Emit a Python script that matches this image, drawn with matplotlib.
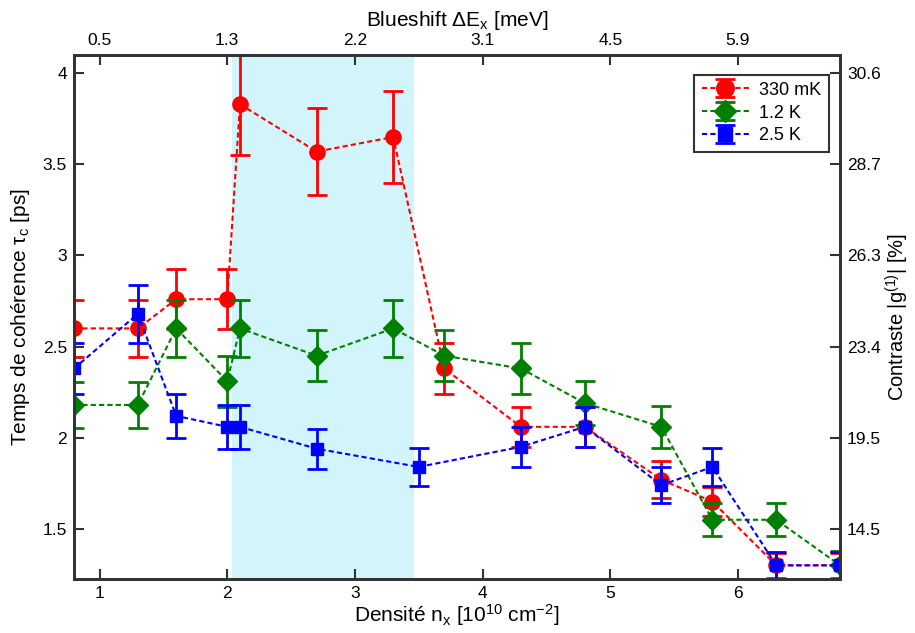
import matplotlib
matplotlib.use("Agg")
import matplotlib.pyplot as plt

plt.rcParams['font.family'] = ['Liberation Sans', 'DejaVu Sans']
plt.rcParams['mathtext.default'] = 'regular'

# Data
x_330 = [0.8, 1.3, 1.6, 2.0, 2.1, 2.7, 3.3, 3.7, 4.3, 4.8, 5.4, 5.8, 6.3, 6.8]
y_330 = [2.60, 2.60, 2.76, 2.76, 3.83, 3.57, 3.65, 2.38, 2.06, 2.06, 1.77, 1.65, 1.30, 1.30]
e_330 = [0.155, 0.155, 0.165, 0.165, 0.28, 0.24, 0.25, 0.14, 0.11, 0.11, 0.10, 0.08, 0.07, 0.07]

x_12 = [0.8, 1.3, 1.6, 2.0, 2.1, 2.7, 3.3, 3.7, 4.3, 4.8, 5.4, 5.8, 6.3, 6.8]
y_12 = [2.18, 2.18, 2.60, 2.31, 2.60, 2.45, 2.60, 2.45, 2.38, 2.19, 2.06, 1.55, 1.55, 1.30]
e_12 = [0.125, 0.125, 0.155, 0.14, 0.155, 0.14, 0.155, 0.14, 0.14, 0.12, 0.115, 0.09, 0.09, 0.08]

x_25 = [0.8, 1.3, 1.6, 2.0, 2.1, 2.7, 3.5, 4.3, 4.8, 5.4, 5.8, 6.3, 6.8]
y_25 = [2.38, 2.68, 2.12, 2.06, 2.06, 1.94, 1.84, 1.95, 2.06, 1.74, 1.84, 1.30, 1.30]
e_25 = [0.14, 0.16, 0.12, 0.12, 0.12, 0.11, 0.105, 0.11, 0.11, 0.10, 0.105, 0.075, 0.075]

shade_span = [2.04, 3.46]

bottom_ticks = [1, 2, 3, 4, 5, 6]
top_labels = ['0.5', '1.3', '2.2', '3.1', '4.5', '5.9']
left_ticks = [1.5, 2, 2.5, 3, 3.5, 4]
left_labels = ['1.5', '2', '2.5', '3', '3.5', '4']
right_labels = ['14.5', '19.5', '23.4', '26.3', '28.7', '30.6']

xlim = (0.8, 6.8)
ylim = (1.225, 4.1)

fig = plt.figure(figsize=(9.15, 6.33), dpi=100)
ax = fig.add_axes([0.0809, 0.0853, 0.8372, 0.8278])

ax.axvspan(shade_span[0], shade_span[1], color='#d2f4fb', zorder=0, lw=0)

common = dict(ls=(0, (2.5, 1.5)), lw=1.5, elinewidth=2, capsize=7, capthick=2)
ax.errorbar(x_330, y_330, yerr=e_330, color='#ff0000', marker='o', ms=11,
            label='330 mK', zorder=3, **common)
ax.errorbar(x_12, y_12, yerr=e_12, color='#008000', marker='D', ms=10,
            label='1.2 K', zorder=4, **common)
ax.errorbar(x_25, y_25, yerr=e_25, color='#0000ff', marker='s', ms=9,
            label='2.5 K', zorder=5, **common)

ax.set_xlim(*xlim)
ax.set_ylim(*ylim)
ax.set_xticks(bottom_ticks)
ax.set_xticklabels([str(t) for t in bottom_ticks])
ax.set_yticks(left_ticks)
ax.set_yticklabels(left_labels)

lab_fs = 15
ax.set_xlabel('Densité n$_x$ [10$^{10}$ cm$^{-2}$]', fontsize=lab_fs, labelpad=1)
ax.set_ylabel('Temps de cohérence τ$_c$ [ps]', fontsize=lab_fs, labelpad=8)

ax2 = ax.twinx()
ax2.set_ylim(*ylim)
ax2.set_yticks(left_ticks)
ax2.set_yticklabels(right_labels)
ax2.set_ylabel('Contraste |g$^{(1)}$| [%]', fontsize=14.5, labelpad=2)

ax3 = ax.twiny()
ax3.set_xlim(*xlim)
ax3.set_xticks(bottom_ticks)
ax3.set_xticklabels(top_labels)
ax3.set_xlabel('Blueshift ΔE$_x$ [meV]', fontsize=lab_fs, labelpad=5)

for a in (ax, ax2, ax3):
    for s in a.spines.values():
        s.set_color('#333333')
        s.set_linewidth(1.8)
    a.tick_params(direction='in', length=7, width=1.5, color='#333333',
                  labelsize=12.5, pad=5)

leg = ax.legend(loc='upper right', fontsize=13, frameon=True, fancybox=False,
                edgecolor='#333333', framealpha=1, borderpad=0.4,
                handlelength=2.6, handletextpad=0.6, labelspacing=0.32,
                markerscale=1.15, bbox_to_anchor=(0.997, 0.98))
leg.get_frame().set_linewidth(1.5)

fig.savefig('out.png', dpi=100)
